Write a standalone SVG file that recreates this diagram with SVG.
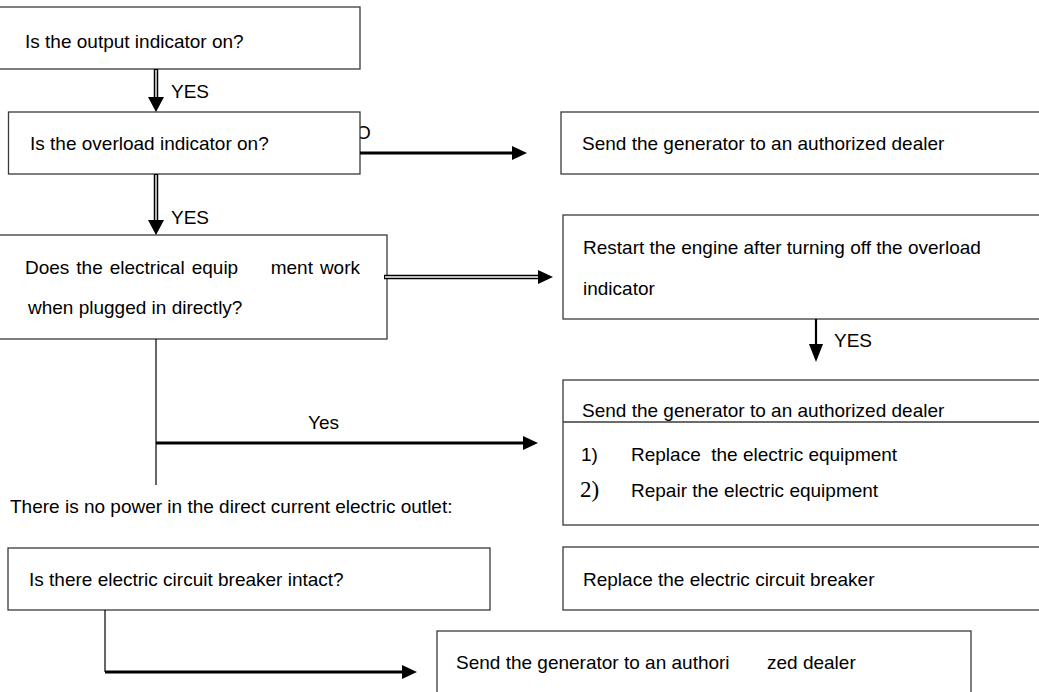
<svg xmlns="http://www.w3.org/2000/svg" width="1039" height="692" viewBox="0 0 1039 692">
<style>
.box{fill:#fff;stroke:#3a3a3a;stroke-width:1.3}
.t{font-family:"Liberation Sans",Arial,sans-serif;font-size:19px;fill:#000}
.s{font-family:"Liberation Serif","Times New Roman",serif;font-size:23px;fill:#000}
.thin{stroke:#000;stroke-width:1.2;fill:none}
.thick{stroke:#000;stroke-width:3.2;fill:none}
.dbl{stroke:#000;stroke-width:4.5;fill:none}
.dblin{stroke:#fff;stroke-width:1.4;fill:none}
.head{fill:#000}
</style>
<rect width="1039" height="692" fill="#fff"/>
<text class="t" x="356" y="139">O</text>
<g id="nodeA"><rect class="box" x="-2" y="7" width="362" height="62"/><text class="t" x="25" y="48">Is the output indicator on?</text></g>
<g id="nodeB"><rect class="box" x="8.5" y="112" width="351.5" height="62"/><text class="t" x="30" y="150">Is the overload indicator on?</text></g>
<g id="nodeC"><rect class="box" x="561" y="112" width="490" height="62"/><text class="t" x="582" y="150">Send the generator to an authorized dealer</text></g>
<g id="nodeD"><rect class="box" x="-2" y="235" width="389" height="104"/>
<text class="t" y="274"><tspan x="25">Does</tspan><tspan x="76.3">the</tspan><tspan x="109.7">electrical</tspan><tspan x="191.7">equip</tspan><tspan x="270.7">ment</tspan><tspan x="319.9">work</tspan></text>
<text class="t" x="28" y="314">when plugged in directly?</text></g>
<g id="nodeE"><rect class="box" x="563" y="215" width="490" height="104"/><text class="t" x="583" y="254">Restart the engine after turning off the overload</text><text class="t" x="583" y="295">indicator</text></g>
<g id="nodeF"><rect class="box" x="563" y="380" width="490" height="145"/>
<text class="t" x="582" y="417">Send the generator to an authorized dealer</text>
<line x1="563" y1="422" x2="1045" y2="422" stroke="#3a3a3a" stroke-width="1.3"/>
<text class="t" x="581" y="461">1)</text><text class="t" x="631" y="461" xml:space="preserve">Replace  the electric equipment</text>
<text class="s" x="580" y="497">2)</text><text class="t" x="631" y="497">Repair the electric equipment</text></g>
<g id="noteDC"><text class="t" x="10" y="513">There is no power in the direct current electric outlet:</text></g>
<g id="nodeG"><rect class="box" x="8" y="548" width="482" height="62"/><text class="t" x="29" y="586">Is there electric circuit breaker intact?</text></g>
<g id="nodeH"><rect class="box" x="563" y="547" width="490" height="63"/><text class="t" x="583" y="586">Replace the electric circuit breaker</text></g>
<g id="nodeI"><rect class="box" x="437" y="631" width="534" height="80"/><text class="t" x="456" y="669">Send the generator to an authori</text><text class="t" x="767" y="669">zed dealer</text></g>
<g id="connectors">
<line class="dbl" x1="156" y1="69" x2="156" y2="99"/><line class="dblin" x1="156" y1="70" x2="156" y2="101"/>
<polygon class="head" points="148,97 164,97 156,112"/>
<text class="t" x="171" y="98">YES</text>
<line class="dbl" x1="156" y1="174" x2="156" y2="222"/><line class="dblin" x1="156" y1="175" x2="156" y2="224"/>
<polygon class="head" points="148,220 164,220 156,235"/>
<text class="t" x="171" y="224">YES</text>
<line class="thick" x1="360" y1="153" x2="514" y2="153"/>
<polygon class="head" points="512,146 527,153 512,160"/>
<line class="dbl" x1="384" y1="277" x2="541" y2="277"/><line class="dblin" x1="385" y1="277" x2="543" y2="277"/>
<polygon class="head" points="538,270 553,277 538,284"/>
<line class="thick" x1="816" y1="319" x2="816" y2="346" style="stroke-width:2.2"/>
<polygon class="head" points="809,344 823,344 816,362"/>
<text class="t" x="834" y="347">YES</text>
<line class="thin" x1="156" y1="339" x2="156" y2="485"/>
<line class="thick" x1="156" y1="443" x2="525" y2="443"/>
<polygon class="head" points="523,436 538,443 523,450"/>
<text class="t" x="308" y="429">Yes</text>
<line class="thin" x1="105" y1="610" x2="105" y2="672"/>
<line class="thick" x1="105" y1="672" x2="404" y2="672"/>
<polygon class="head" points="402,665 417,672 402,679"/>
</g>
</svg>
